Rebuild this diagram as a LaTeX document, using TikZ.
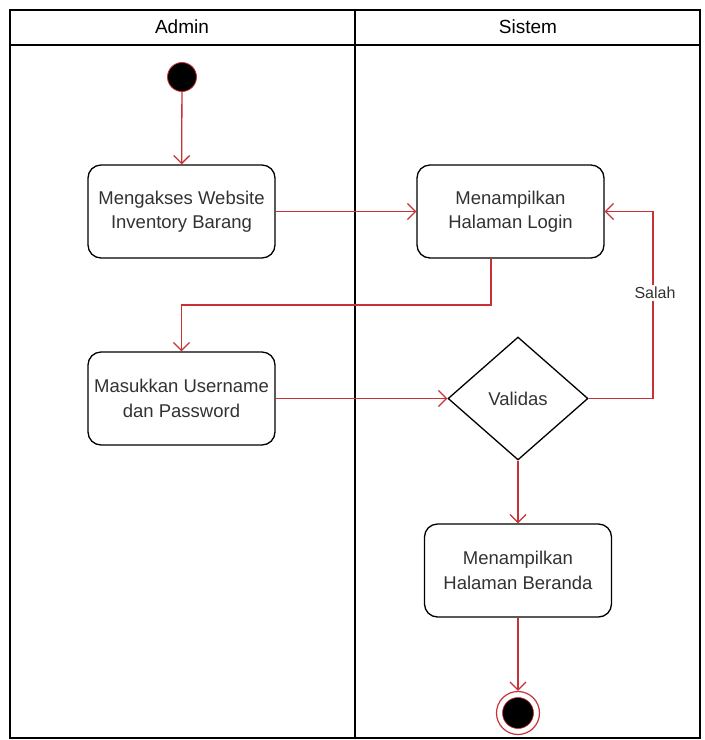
\documentclass[tikz,border=0pt]{standalone}
\usepackage{fontspec}
\setmainfont{Liberation Sans}
\usetikzlibrary{shapes.geometric,arrows.meta}
\definecolor{flow}{RGB}{200,50,55}
\definecolor{txt}{RGB}{50,50,50}
\begin{document}
\begin{tikzpicture}[x=1pt,y=-1pt,
  every node/.style={font=\fontsize{18.5}{24.5}\selectfont, text=txt},
  act/.style={draw=black, line width=1.3pt, rounded corners=13pt, minimum width=187pt, minimum height=93pt, align=center, inner sep=2pt},
  dec/.style={draw=black, line width=1.3pt, diamond, minimum width=140pt, minimum height=123pt, aspect=1.14, inner sep=0pt},
  flowline/.style={draw=flow, line width=1.3pt, -{Straight Barb[length=8pt,width=16pt,line width=1.3pt]}},
  lane/.style={draw=black, line width=1.3pt}
]
\useasboundingbox (0,0) rectangle (705,740);
% swimlanes
\draw[lane] (10,10) rectangle (700,738);
\draw[lane] (10,45) -- (700,45);
\draw[lane] (355,10) -- (355,738);
\node[font=\fontsize{19}{22}\selectfont, text=black] (hA) at (182,27) {Admin};
\node[font=\fontsize{19}{22}\selectfont, text=black] (hS) at (528,27) {Sistem};
% nodes
\node[circle, fill=black, draw=flow, line width=0.8pt, minimum size=29pt, inner sep=0pt] (start) at (182,77) {};
\node[act] (b1) at (181.5,211.5) {Mengakses Website\\Inventory Barang};
\node[act] (b2) at (510.5,211.5) {Menampilkan\\Halaman Login};
\node[act] (b3) at (181.5,398.5) {Masukkan Username\\dan Password};
\node[dec] (d) at (518,398.5) {};
\node at (d.center) {Validas};
\node[act] (b4) at (518,570.5) {Menampilkan\\Halaman Beranda};
\node[circle, draw=flow, line width=1.2pt, fill=white, minimum size=43pt, inner sep=0pt] (end) at (518,713) {};
\node[circle, fill=black, draw=flow, line width=0.6pt, minimum size=31pt, inner sep=0pt] (endin) at (end.center) {};
\coordinate (c1) at (491,305);
\coordinate (c2) at (181.5,305);
\coordinate (c3) at (653,398.5);
\coordinate (c4) at (653,211.5);
% connectors
\draw[flowline] (start) -- (b1);
\draw[flowline] (b1) -- (b2);
\draw[flowline] (b2.south -| c1) -- (c1) -- (c2) -- (b3.north);
\draw[flowline] (b3) -- (d.west);
\draw[flowline] (d.east) -- (c3) -- (c4) -- (b2.east);
\node[fill=white, inner sep=2pt, font=\fontsize{16}{19}\selectfont] (lbl) at (655,293) {Salah};
\draw[flowline] (d.south) -- (b4.north);
\draw[flowline] (b4.south) -- (end.north);
\end{tikzpicture}
\end{document}
